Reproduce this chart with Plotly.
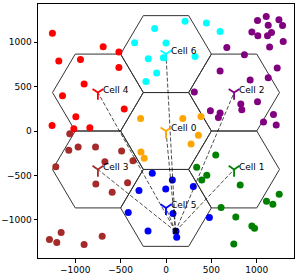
import numpy as np
import plotly.graph_objects as go

# Cell base stations
cell_names = ["Cell 0", "Cell 1", "Cell 2", "Cell 3", "Cell 4", "Cell 5", "Cell 6"]
cell_x = [0, 750, 750, -750, -750, 0, 0]
cell_y = [0, -433, 433, -433, 433, -866, 866]
cell_colors = ["orange", "green", "purple", "brown", "red", "blue", "cyan"]
hex_radius = 500

# User position (common end of the dashed lines)
ue_x = [105]
ue_y = [-1130]

# Users per cell
users_x = {
    0: [-280, 185, 385, 357, 276, -276, -240],
    1: [548, 338, 449, 394, 817, 1247, 1107, 1177, 607, 769, 946, 975, 747],
    2: [1008, 1104, 1244, 1126, 1284, 946, 1012, 1162, 1118, 1291, 1141, 670, 864,
        1225, 596, 927, 1126, 312, 824, 1008, 835, 489, 596, 577, 1184, 1074, 1214],
    3: [-1060, -1071, -968, -776, -489, -673, -364, -1214, -773, -423, -593, -1155,
        -1284, -1203, -902, -703],
    4: [-1251, -692, -519, -1181, -942, -519, -902, -1140, -460, -993, -1255, -1015, -839],
    5: [-151, 70, -298, -3, 301, 77, 478, -416, -198, 110, 118],
    6: [-346, -195, -221, -125, 210, 445, 596, 0, -29, 320, -103],
}
users_y = {
    0: [142, 142, 164, -49, -146, -236, -308],
    1: [-270, -409, -499, -551, -607, -713, -791, -825, -862, -967, -1069, -1095, -1271],
    2: [1244, 1289, 1252, 1192, 1188, 1114, 1072, 1109, 1072, 1008, 945, 940, 858,
        709, 675, 574, 600, 439, 304, 330, 240, 228, 202, 153, 187, 101, 67],
    3: [-30, -218, -180, -180, -225, -345, -334, -402, -596, -582, -690, -1144,
        -1223, -1256, -1279, -1185],
    4: [1102, 948, 889, 787, 805, 715, 529, 397, 247, 161, 63, 26, 37],
    5: [-477, -551, -671, -652, -626, -930, -975, -919, -1127, -1129, -1197],
    6: [993, 813, 558, 1154, 1237, 1215, 1120, 990, 824, 839, 652],
}

x_ticks = [-1000, -500, 0, 500, 1000]
y_ticks = [-1000, -500, 0, 500, 1000]

fig = go.Figure()

# Hexagons
ang = np.deg2rad(np.arange(0, 361, 60))
for cx, cy in zip(cell_x, cell_y):
    fig.add_trace(go.Scatter(
        x=cx + hex_radius * np.cos(ang), y=cy + hex_radius * np.sin(ang),
        mode="lines", line=dict(color="#333333", width=1), hoverinfo="skip"))

# Users
for i in range(7):
    fig.add_trace(go.Scatter(
        x=users_x[i], y=users_y[i], mode="markers",
        marker=dict(color=cell_colors[i], size=7, line=dict(width=0))))

# Dashed lines from UE to each cell
for cx, cy in zip(cell_x, cell_y):
    fig.add_trace(go.Scatter(
        x=[ue_x[0], cx], y=[ue_y[0], cy], mode="lines",
        line=dict(color="black", width=0.7, dash="4px,2px"), hoverinfo="skip"))

fig.add_trace(go.Scatter(x=ue_x, y=ue_y, mode="markers",
                         marker=dict(symbol="x-thin", size=5, color="black",
                                     line=dict(color="black", width=1.5))))

# Cell markers
fig.add_trace(go.Scatter(
    x=cell_x, y=cell_y, mode="markers",
    marker=dict(symbol="y-down", size=9, color=cell_colors,
                line=dict(color=cell_colors, width=1.8))))

for name, cx, cy in zip(cell_names, cell_x, cell_y):
    fig.add_annotation(x=cx + 35, y=cy + 30, text=name, showarrow=False,
                       xanchor="left", yanchor="middle",
                       font=dict(family="DejaVu Sans", size=9, color="black"))

axis_common = dict(showgrid=False, zeroline=False, showline=True, linecolor="black",
                   linewidth=1, mirror=True, ticks="outside", ticklen=3.5,
                   tickwidth=1, tickcolor="black", automargin=False,
                   ticklabelstandoff=0,
                   tickfont=dict(family="DejaVu Sans", size=9, color="black"))

fig.update_layout(
    width=299, height=274,
    margin=dict(l=38, r=5, t=4, b=16),
    paper_bgcolor="white", plot_bgcolor="white",
    showlegend=False,
    xaxis=dict(range=[-1410, 1410], tickvals=x_ticks, **axis_common),
    yaxis=dict(range=[-1430, 1430], tickvals=y_ticks, **axis_common),
)

fig.write_html("out.html", config={"displayModeBar": False},
               post_script="document.body.style.margin='0';document.body.style.overflow='hidden';")
